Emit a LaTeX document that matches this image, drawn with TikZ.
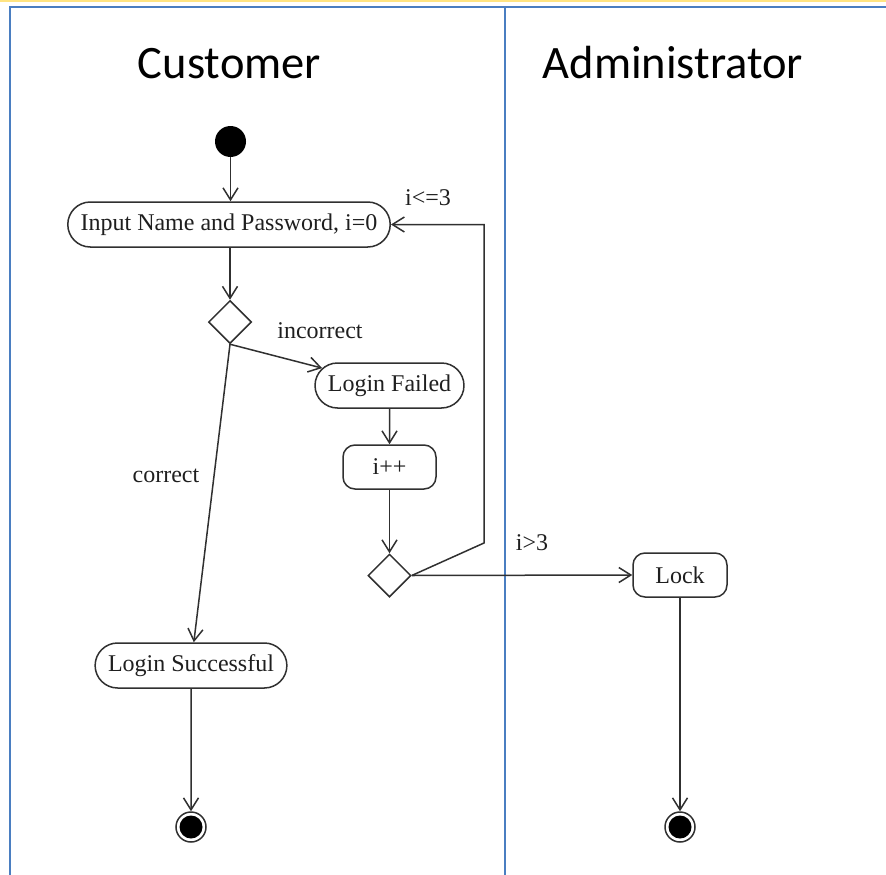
\documentclass[tikz,border=0pt]{standalone}
\usepackage{fontspec}
\setmainfont{Liberation Serif}
\newfontfamily\lanefont{Carlito}
\usetikzlibrary{arrows.meta,shapes.geometric,shapes.misc}
\definecolor{laneblue}{RGB}{74,126,193}
\definecolor{topyellow}{RGB}{255,228,130}
\definecolor{ink}{RGB}{48,48,48}
\tikzset{
  lane/.style={draw=laneblue,line width=2.6pt},
  lanetitle/.style={font=\lanefont\fontsize{46.5}{50}\selectfont,anchor=base,text=black},
  action/.style={rounded rectangle,draw=ink,line width=1.5pt,fill=white,
    minimum height=45pt,inner xsep=10pt,font=\fontsize{24}{26}\selectfont,text=black!88},
  boxact/.style={rectangle,rounded corners=12pt,draw=ink,line width=1.5pt,fill=white,
    minimum height=44pt,font=\fontsize{24}{26}\selectfont,text=black!88},
  decision/.style={diamond,draw=ink,line width=1.5pt,fill=white,aspect=1,
    minimum width=43pt,minimum height=43pt,inner sep=0pt},
  initial/.style={circle,fill=black,minimum size=31pt,inner sep=0pt},
  flow/.style={draw=ink,line width=1.5pt,-{Straight Barb[length=12pt,width=15pt,line width=1.5pt]}},
  guard/.style={font=\fontsize{24}{26}\selectfont,text=black!88},
}
\begin{document}
\begin{tikzpicture}[x=1pt,y=-1pt]
\useasboundingbox (0,0) rectangle (886,875);
% swimlane frame
\fill[topyellow] (0,0) rectangle (886,2.5);
\draw[lane] (10,875) -- (10,7) -- (886,7);
\draw[lane] (505,7) -- (505,875);
\node[lanetitle] (tcust) at (229.5,78) {Customer};
\node[lanetitle] (tadm) at (673,78) {Administrator};

% activity nodes
\node[initial] (start) at (230.5,141.5) {};
\node[action] (input) at (229,224.5) {Input Name and Password, i=0};
\node[decision] (d1) at (230,322) {};
\node[action] (failed) at (389.5,385.5) {Login Failed};
\node[boxact,minimum width=93pt] (inc) at (389.5,467) {i++};
\node[decision] (d2) at (389.5,575.5) {};
\node[boxact,minimum width=94pt] (lock) at (680,575) {Lock};
\node[action] (success) at (191,665.5) {Login Successful};

% final states
\foreach \n/\x in {endc/191,enda/680}{
  \node[circle,draw=ink,line width=1.5pt,fill=white,minimum size=30pt,inner sep=0pt] (\n) at (\x,827) {};
  \fill[black] (\n.center) circle (11.5);
}

% flows
\draw[flow] (start) -- (start |- input.north);
\draw[flow] (input.south -| d1.north) -- (d1.north);
\draw[flow] (d1.south) -- (failed);
\draw[flow] (d1.south) -- (success);
\draw[flow] (failed) -- (inc);
\draw[flow] (inc) -- (d2);
\coordinate (bend) at (484,543);
\draw[flow] (d2.east) -- (bend) -- (bend |- input.east) -- (input.east);
\draw[flow] (d2.east) -- (lock.west);
\draw[flow] (success) -- (endc);
\draw[flow] (lock) -- (enda);

% guards
\node[guard] (gin) at (320,331) {incorrect};
\node[guard] (gco) at (166,476) {correct};
\node[guard] (gle) at (428,198) {i<=3};
\node[guard] (ggt) at (532,543) {i>3};
\end{tikzpicture}
\end{document}
